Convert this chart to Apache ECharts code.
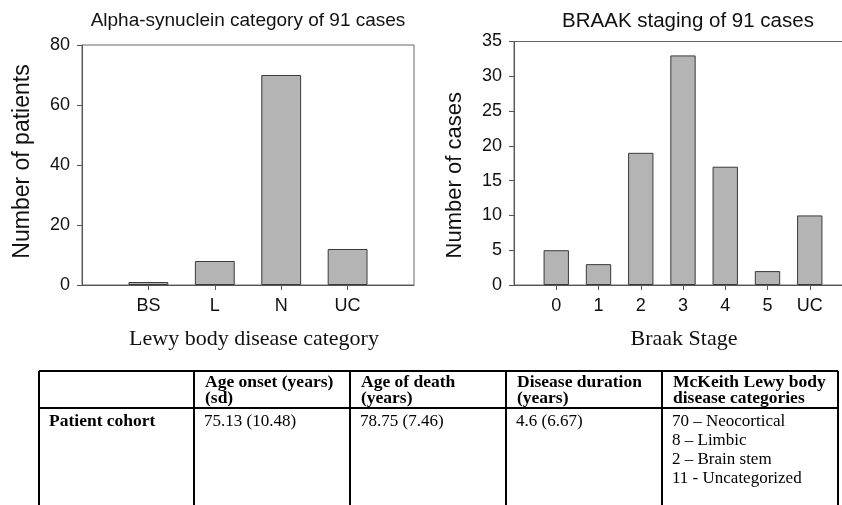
<!DOCTYPE html>
<html>
<head>
    <meta charset="utf-8">
    <title>Alpha-synuclein and BRAAK</title>
    <script src="https://cdn.jsdelivr.net/npm/echarts@6/dist/echarts.min.js"></script>
    <style>
        html, body { margin: 0; padding: 0; background: #fff; }
    </style>
</head>
<body>
    <div id="main" style="width: 842px;height:505px;"></div>
    <script type="text/javascript">
        // left chart: alpha-synuclein category
        var lewyCats = ['BS', 'L', 'N', 'UC'];
        var lewyCounts = [1, 8, 70, 12];
        // right chart: braak stage
        var braakCats = ['0', '1', '2', '3', '4', '5', 'UC'];
        var braakCounts = [5, 3, 19, 33, 17, 2, 10];

        // table under the charts
        var tableHeader = [
            [],
            ['Age onset (years)', '(sd)'],
            ['Age of death', '(years)'],
            ['Disease duration', '(years)'],
            ['McKeith Lewy body', 'disease categories']
        ];
        var tableRow = [
            ['Patient cohort'],
            ['75.13 (10.48)'],
            ['78.75 (7.46)'],
            ['4.6 (6.67)'],
            ['70 \u2013 Neocortical', '8 \u2013 Limbic', '2 \u2013 Brain stem', '11 - Uncategorized']
        ];

        var sans = "'Liberation Sans', Arial, sans-serif";
        var serif = "'Liberation Serif', 'Times New Roman', serif";

        // empty slot each side so the bars sit one band in from the frame
        function pad(arr, fill) {
            return [fill].concat(arr, [fill]);
        }

        function xAxisOf(idx, cats, name, namePad) {
            return {
                type: 'category',
                gridIndex: idx,
                data: pad(cats, ''),
                boundaryGap: false,
                name: name,
                nameLocation: 'middle',
                nameGap: 43,
                nameTextStyle: { fontFamily: serif, fontSize: 22, color: '#111', padding: namePad },
                axisLine: { lineStyle: { color: '#555', width: 1 } },
                axisTick: {
                    length: 5,
                    lineStyle: { color: '#555' },
                    interval: function (i, v) { return v !== ''; }
                },
                axisLabel: { fontFamily: sans, fontSize: 18, color: '#111', margin: 12, interval: 0 },
                splitLine: { show: false }
            };
        }

        function yAxisOf(idx, max, interval, name, nameSize, namePad) {
            return {
                type: 'value',
                gridIndex: idx,
                min: 0,
                max: max,
                interval: interval,
                name: name,
                nameLocation: 'middle',
                nameRotate: 90,
                nameGap: 48,
                nameTextStyle: { fontFamily: sans, fontSize: nameSize, color: '#111', padding: namePad },
                axisLine: { show: true, lineStyle: { color: '#555', width: 1 } },
                axisTick: { show: true, length: 5, lineStyle: { color: '#555' } },
                axisLabel: { fontFamily: sans, fontSize: 18, color: '#111', margin: 12 },
                splitLine: { show: false }
            };
        }

        var barStyle = { color: '#b4b4b4', borderColor: '#3a3a3a', borderWidth: 1 };

        // table graphics
        var colX = [39, 194, 350, 506, 662, 838];
        var tTop = 371, tMid = 408, tBot = 520;
        var graphics = [];
        function line(x1, y1, x2, y2) {
            graphics.push({
                type: 'line',
                shape: { x1: x1, y1: y1, x2: x2, y2: y2 },
                style: { stroke: '#000', lineWidth: 2 }
            });
        }
        line(colX[0], tTop, colX[5], tTop);
        line(colX[0], tMid, colX[5], tMid);
        colX.forEach(function (x) { line(x, tTop, x, tBot); });

        function text(str, x, baseline, bold) {
            graphics.push({
                type: 'text',
                x: x,
                y: baseline - 5.5,
                style: {
                    text: str,
                    fontFamily: serif,
                    fontSize: bold ? 17.5 : 17,
                    fontWeight: bold ? 'bold' : 'normal',
                    fill: '#000',
                    verticalAlign: 'middle'
                }
            });
        }
        tableHeader.forEach(function (lines, c) {
            lines.forEach(function (s, k) { text(s, colX[c] + 11, 388 + k * 16, true); });
        });
        tableRow.forEach(function (lines, c) {
            lines.forEach(function (s, k) { text(s, colX[c] + 10, 427 + k * 19, c === 0); });
        });

        var myChart = echarts.init(document.getElementById('main'));

        var option = {
            animation: false,
            backgroundColor: '#fff',
            title: [{
                text: 'Alpha-synuclein category of 91 cases',
                left: 243,
                top: 6,
                textAlign: 'center',
                textStyle: { fontFamily: sans, fontSize: 19, fontWeight: 'normal', color: '#111' }
            }, {
                text: 'BRAAK staging of 91 cases',
                left: 683,
                top: 6,
                textAlign: 'center',
                textStyle: { fontFamily: sans, fontSize: 20.5, fontWeight: 'normal', color: '#111' }
            }],
            grid: [{
                left: 82, top: 45, width: 332, height: 240,
                outerBoundsMode: 'none',
                show: true, borderColor: '#666', borderWidth: 1
            }, {
                left: 514, top: 41.5, width: 338, height: 243.5,
                outerBoundsMode: 'none',
                show: true, borderColor: '#666', borderWidth: 1
            }],
            xAxis: [
                xAxisOf(0, lewyCats, 'Lewy body disease category', [0, 0, 0, 12]),
                xAxisOf(1, braakCats, 'Braak Stage', [0, 0, 0, 2])
            ],
            yAxis: [
                yAxisOf(0, 80, 20, 'Number of patients', 23, [0, 0, 0, 7]),
                yAxisOf(1, 35, 5, 'Number of cases', 22, [0, 24, 0, 0])
            ],
            series: [{
                type: 'bar',
                xAxisIndex: 0,
                yAxisIndex: 0,
                barWidth: '60%',
                itemStyle: barStyle,
                data: pad(lewyCounts, '-')
            }, {
                type: 'bar',
                xAxisIndex: 1,
                yAxisIndex: 1,
                barWidth: '60%',
                itemStyle: barStyle,
                data: pad(braakCounts, '-')
            }],
            graphic: graphics
        };

        myChart.setOption(option);
    </script>
</body>
</html>
